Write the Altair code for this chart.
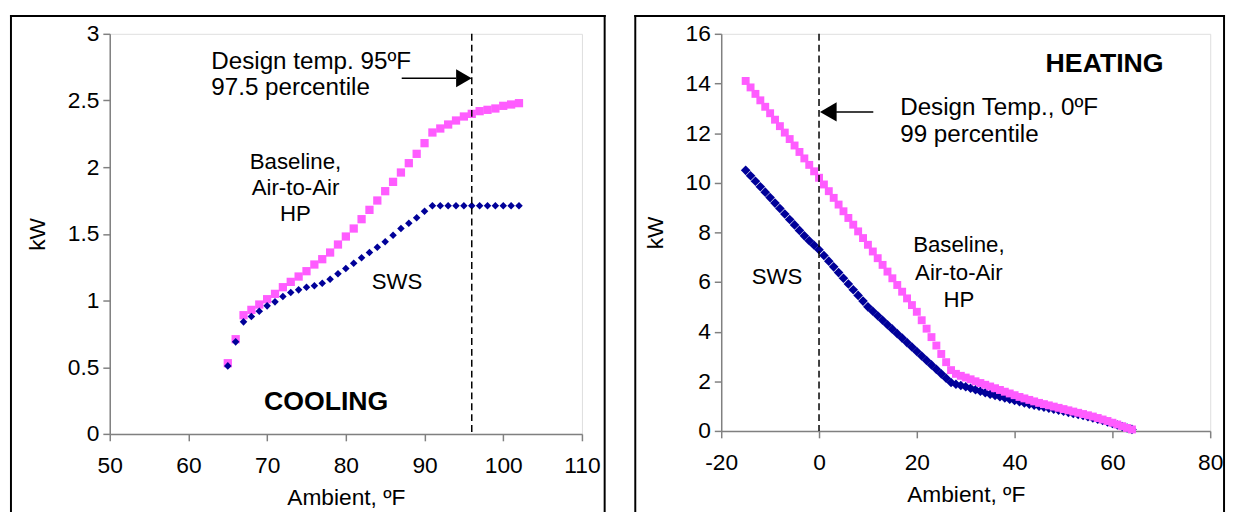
import altair as alt
import pandas as pd

FONT = "Liberation Sans"
PINK = "#FF5CFF"
NAVY = "#000099"

# ---------------- data: cooling ----------------
cool_temp = list(range(65, 103))
cool_baseline = [0.53, 0.71, 0.89, 0.93, 0.97, 1.01, 1.05, 1.10, 1.14, 1.18,
                 1.22, 1.27, 1.31, 1.36, 1.42, 1.48, 1.54, 1.61, 1.68, 1.75,
                 1.82, 1.89, 1.96, 2.03, 2.10, 2.18, 2.26, 2.29, 2.32, 2.35,
                 2.38, 2.40, 2.42, 2.43, 2.44, 2.46, 2.47, 2.48]
cool_sws = [0.51, 0.69, 0.84, 0.88, 0.92, 0.96, 0.99, 1.03, 1.06, 1.08,
            1.10, 1.11, 1.13, 1.16, 1.20, 1.24, 1.28, 1.32, 1.36, 1.40,
            1.44, 1.49, 1.54, 1.58, 1.62, 1.67, 1.71, 1.71, 1.71, 1.71,
            1.71, 1.71, 1.71, 1.71, 1.71, 1.71, 1.71, 1.71]
cool_xticks = [50, 60, 70, 80, 90, 100, 110]
cool_yticks = [0, 0.5, 1, 1.5, 2, 2.5, 3]
cool_design = 96

# ---------------- data: heating ----------------
heat_temp = list(range(-15, 65))
heat_baseline = [14.1, 13.84, 13.58, 13.32, 13.06, 12.8, 12.54, 12.28, 12.02, 11.76,
                 11.5, 11.24, 10.98, 10.72, 10.46, 10.2, 9.93, 9.66, 9.39, 9.12,
                 8.85, 8.58, 8.31, 8.04, 7.77, 7.5, 7.23, 6.96, 6.69, 6.42,
                 6.15, 5.88, 5.61, 5.34, 5.07, 4.8, 4.46, 4.12, 3.78, 3.44,
                 3.1, 2.77, 2.45, 2.3, 2.22, 2.15, 2.08, 2.0, 1.93, 1.86,
                 1.79, 1.72, 1.65, 1.58, 1.51, 1.44, 1.37, 1.31, 1.25, 1.19,
                 1.13, 1.08, 1.03, 0.98, 0.93, 0.88, 0.83, 0.78, 0.73, 0.68,
                 0.63, 0.58, 0.52, 0.46, 0.40, 0.33, 0.26, 0.19, 0.12, 0.06]
heat_sws = [10.5, 10.28, 10.06, 9.84, 9.62, 9.4, 9.18, 8.96, 8.74, 8.52,
            8.3, 8.08, 7.86, 7.66, 7.48, 7.3, 7.07, 6.84, 6.61, 6.38,
            6.15, 5.92, 5.69, 5.46, 5.23, 5.0, 4.82, 4.64, 4.46, 4.28,
            4.1, 3.92, 3.74, 3.56, 3.38, 3.2, 3.02, 2.84, 2.66, 2.48,
            2.3, 2.12, 1.95, 1.88, 1.83, 1.78, 1.72, 1.66, 1.6, 1.54,
            1.48, 1.43, 1.38, 1.33, 1.28, 1.23, 1.18, 1.13, 1.08, 1.04,
            1.0, 0.96, 0.92, 0.88, 0.84, 0.8, 0.75, 0.7, 0.66, 0.62,
            0.57, 0.52, 0.47, 0.42, 0.36, 0.3, 0.24, 0.18, 0.12, 0.06]
heat_xticks = [-20, 0, 20, 40, 60, 80]
heat_yticks = [0, 2, 4, 6, 8, 10, 12, 14, 16]
heat_design = 0

# ---------------- annotation texts (data coordinates) ----------------
cool_left_text = ["Design temp. 95ºF", "97.5 percentile"]
cool_left_x = [62.9, 62.9]
cool_left_y = [2.733, 2.543]
cool_center_text = ["Baseline,", "Air-to-Air", "HP", "SWS"]
cool_center_x = [73.6, 73.6, 73.6, 86.5]
cool_center_y = [1.99, 1.79, 1.60, 1.09]
cool_bold_text = ["COOLING"]
cool_bold_x = [77.5]
cool_bold_y = [0.178]
cool_arrow = {"x0": 87.1, "x1": 94.0, "head": 95.0, "y": 2.667}

heat_left_text = ["Design Temp., 0ºF", "99 percentile"]
heat_left_x = [16.6, 16.6]
heat_left_y = [12.71, 11.65]
heat_center_text = ["Baseline,", "Air-to-Air", "HP", "SWS"]
heat_center_x = [28.6, 28.6, 28.6, -8.6]
heat_center_y = [7.2, 6.07, 5.01, 5.91]
heat_bold_text = ["HEATING"]
heat_bold_x = [58.4]
heat_bold_y = [14.46]
heat_arrow = {"x0": 3.5, "x1": 11.1, "head": 1.9, "y": 12.85}


def axis_x(ticks):
    return alt.Axis(values=ticks, title="Ambient, ºF", grid=False,
                    labelExpr="'' + datum.value",
                    domainColor="#808080", domainWidth=1.5,
                    tickColor="#808080", tickWidth=1.5, tickSize=7,
                    labelFont=FONT, labelFontSize=23, labelColor="black",
                    labelPadding=14, labelFlush=False, labelOverlap=False,
                    titleFont=FONT, titleFontSize=23, titleFontWeight="normal",
                    titleColor="black", titlePadding=9)


def axis_y(ticks):
    return alt.Axis(values=ticks, title="kW", grid=False,
                    labelExpr="'' + datum.value",
                    domainColor="#808080", domainWidth=1.5,
                    tickColor="#808080", tickWidth=1.5, tickSize=7,
                    labelFont=FONT, labelFontSize=23, labelColor="black",
                    labelPadding=4, labelFlush=False, labelOverlap=False,
                    titleFont=FONT, titleFontSize=23, titleFontWeight="normal",
                    titleColor="black", titlePadding=18)


def panel(temp, base, sws, xdom, ydom, xticks, yticks, design,
          lt, lx, ly, ct, cx, cy, bt, bx, by, arrow, head_shape, head_size,
          w, h, frame, pink_size, navy_size, navy_on_top):
    X = alt.X("x:Q", scale=alt.Scale(domain=xdom, nice=False, zero=False), axis=axis_x(xticks))
    Y = alt.Y("y:Q", scale=alt.Scale(domain=ydom, nice=False, zero=False), axis=axis_y(yticks))

    df_base = pd.DataFrame({"x": temp, "y": base})
    df_sws = pd.DataFrame({"x": temp, "y": sws})

    pink = alt.Chart(df_base).mark_point(shape="square", filled=True, size=pink_size,
                                         opacity=1, color=PINK).encode(x=X, y=Y)
    navy = alt.Chart(df_sws).mark_point(shape="diamond", filled=True, size=navy_size,
                                        opacity=1, color=NAVY).encode(x=X, y=Y)

    one = alt.Data(values=[{"k": 0}])
    dash = alt.Chart(one).mark_rule(color="black", strokeWidth=1.5,
                                    strokeDash=[7, 4]).encode(x=alt.datum(design))
    shaft = alt.Chart(one).mark_rule(color="black", strokeWidth=1.5).encode(
        x=alt.datum(arrow["x0"]), x2=alt.datum(arrow["x1"]), y=alt.datum(arrow["y"]))
    head = alt.Chart(one).mark_point(shape=head_shape, filled=True, size=head_size,
                                     opacity=1, color="black").encode(
        x=alt.datum(arrow["head"]), y=alt.datum(arrow["y"]))

    t_left = alt.Chart(pd.DataFrame({"x": lx, "y": ly, "t": lt})).mark_text(
        align="left", baseline="alphabetic", font=FONT, fontSize=24.5, color="black"
    ).encode(x=X, y=Y, text="t:N")
    t_center = alt.Chart(pd.DataFrame({"x": cx, "y": cy, "t": ct})).mark_text(
        align="center", baseline="alphabetic", font=FONT, fontSize=22.5, color="black"
    ).encode(x=X, y=Y, text="t:N")
    t_bold = alt.Chart(pd.DataFrame({"x": bx, "y": by, "t": bt})).mark_text(
        align="center", baseline="alphabetic", font=FONT, fontSize=27,
        fontWeight="bold", color="black"
    ).encode(x=X, y=Y, text="t:N")

    left, right, top, bottom = frame
    fl = alt.Chart(one).mark_rule(color="black", strokeWidth=2).encode(
        x=alt.value(left), y=alt.value(top - 1), y2=alt.value(bottom))
    fr = alt.Chart(one).mark_rule(color="black", strokeWidth=2).encode(
        x=alt.value(right), y=alt.value(top - 1), y2=alt.value(bottom))
    ft = alt.Chart(one).mark_rule(color="black", strokeWidth=2).encode(
        x=alt.value(left - 1), x2=alt.value(right + 1), y=alt.value(top))

    series = [pink, navy] if navy_on_top else [navy, pink]
    return alt.layer(*series, dash, shaft, head, t_left, t_center, t_bold,
                     fl, fr, ft).properties(width=w, height=h)


cool = panel(cool_temp, cool_baseline, cool_sws, [50, 110], [0, 3],
             cool_xticks, cool_yticks, cool_design,
             cool_left_text, cool_left_x, cool_left_y,
             cool_center_text, cool_center_x, cool_center_y,
             cool_bold_text, cool_bold_x, cool_bold_y,
             cool_arrow, "triangle-right", 330,
             478, 405, (-100, 501, -18, 484), 70, 58, True)

heat = panel(heat_temp, heat_baseline, heat_sws, [-20, 80], [0, 16],
             heat_xticks, heat_yticks, heat_design,
             heat_left_text, heat_left_x, heat_left_y,
             heat_center_text, heat_center_x, heat_center_y,
             heat_bold_text, heat_bold_x, heat_bold_y,
             heat_arrow, "triangle-left", 380,
             495, 402, (-87, 509, -18, 484), 64, 95, False)

chart = alt.hconcat(cool, heat, spacing=25).properties(
    padding={"left": 0, "top": 2, "right": 0, "bottom": 0}
).configure_view(stroke="#b4b4b4", strokeWidth=1.5).configure(background="white")

chart.save("out.html", embed_options={"renderer": "svg", "actions": False})
